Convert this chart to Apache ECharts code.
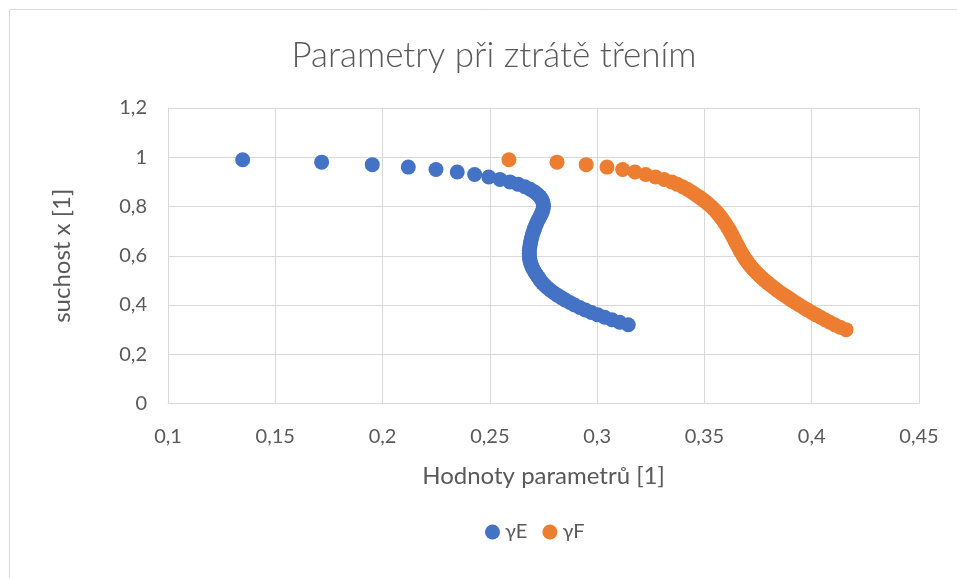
<!DOCTYPE html>
<html>
<head>
<meta charset="utf-8">
<script src="https://cdn.jsdelivr.net/npm/echarts@6/dist/echarts.min.js"></script>
<style>html,body{margin:0;padding:0;background:#fff}#c{width:957px;height:578px}</style>
</head>
<body>
<div id="c"></div>
<script>
const titleText = 'Parametry při ztrátě třením';
const xAxisName = 'Hodnoty parametrů [1]';
const yAxisName = 'suchost x [1]';
const seriesNames = ['γE', 'γF'];

const gammaE_x = [0.1348,0.1716,0.1952,0.2120,0.2249,0.2348,0.2429,0.2495,0.2547,0.2594,
  0.2632,0.2663,0.2688,0.2707,0.2722,0.2733,0.2741,0.2746,0.2749,0.2750,
  0.2748,0.2745,0.2740,0.2734,0.2728,0.2722,0.2717,0.2712,0.2708,0.2704,
  0.2700,0.2697,0.2694,0.2691,0.2689,0.2687,0.2685,0.2684,0.2684,0.2684,
  0.2685,0.2687,0.2690,0.2694,0.2699,0.2705,0.2712,0.2720,0.2728,0.2735,
  0.2745,0.2756,0.2768,0.2782,0.2798,0.2815,0.2833,0.2852,0.2873,0.2895,
  0.2919,0.2945,0.2973,0.3003,0.3035,0.3069,0.3105,0.3145];
const gammaE_y = [0.99,0.98,0.97,0.96,0.95,0.94,0.93,0.92,0.91,0.90,
  0.89,0.88,0.87,0.86,0.85,0.84,0.83,0.82,0.81,0.80,
  0.79,0.78,0.77,0.76,0.75,0.74,0.73,0.72,0.71,0.70,
  0.69,0.68,0.67,0.66,0.65,0.64,0.63,0.62,0.61,0.60,
  0.59,0.58,0.57,0.56,0.55,0.54,0.53,0.52,0.51,0.50,
  0.49,0.48,0.47,0.46,0.45,0.44,0.43,0.42,0.41,0.40,
  0.39,0.38,0.37,0.36,0.35,0.34,0.33,0.32];

const gammaF_x = [0.2589,0.2813,0.2949,0.3046,0.3119,0.3176,0.3226,0.3272,0.3312,0.3348,
  0.3374,0.3398,0.3420,0.3439,0.3456,0.3473,0.3489,0.3504,0.3518,0.3531,
  0.3543,0.3554,0.3564,0.3573,0.3582,0.3590,0.3598,0.3605,0.3612,0.3619,
  0.3625,0.3631,0.3637,0.3643,0.3649,0.3655,0.3661,0.3667,0.3674,0.3681,
  0.3688,0.3696,0.3704,0.3713,0.3723,0.3733,0.3744,0.3756,0.3768,0.3781,
  0.3795,0.3809,0.3824,0.3839,0.3855,0.3872,0.3889,0.3906,0.3924,0.3942,
  0.3961,0.3980,0.4000,0.4020,0.4041,0.4062,0.4084,0.4107,0.4132,0.4160];
const gammaF_y = [0.99,0.98,0.97,0.96,0.95,0.94,0.93,0.92,0.91,0.90,
  0.89,0.88,0.87,0.86,0.85,0.84,0.83,0.82,0.81,0.80,
  0.79,0.78,0.77,0.76,0.75,0.74,0.73,0.72,0.71,0.70,
  0.69,0.68,0.67,0.66,0.65,0.64,0.63,0.62,0.61,0.60,
  0.59,0.58,0.57,0.56,0.55,0.54,0.53,0.52,0.51,0.50,
  0.49,0.48,0.47,0.46,0.45,0.44,0.43,0.42,0.41,0.40,
  0.39,0.38,0.37,0.36,0.35,0.34,0.33,0.32,0.31,0.30];

const colors = ['#4472C4', '#ED7D31'];
const FONT = 'Lato, "Open Sans", sans-serif';
const fmt = v => String(+v.toFixed(2)).replace('.', ',');

const pair = (xs, ys) => xs.map((x, i) => [x, ys[i]]);

const chart = echarts.init(document.getElementById('c'), null, {renderer: 'canvas'});
chart.setOption({
  backgroundColor: '#ffffff',
  animation: false,
  textStyle: {fontFamily: FONT},
  graphic: [{
    type: 'rect', silent: true, z: -10,
    shape: {x: 9.5, y: 9.5, width: 1200, height: 1200},
    style: {fill: 'none', stroke: '#d9d9d9', lineWidth: 1}
  }],
  title: {
    text: titleText, left: 489, textAlign: 'center', top: 33,
    textStyle: {fontFamily: FONT, fontWeight: 300, fontSize: 35, color: '#595959'}
  },
  legend: {
    top: 517, left: 480,
    itemWidth: 15, itemHeight: 15, itemGap: 15,
    icon: 'circle',
    textStyle: {fontFamily: FONT, fontSize: 20, color: '#595959'},
    data: seriesNames
  },
  grid: {left: 168, right: 38, top: 108, bottom: 174.5, containLabel: false},
  xAxis: {
    type: 'value', min: 0.1, max: 0.45, interval: 0.05,
    name: xAxisName, nameLocation: 'middle', nameGap: 61,
    nameTextStyle: {fontFamily: FONT, fontSize: 24, color: '#595959'},
    axisLine: {show: true, lineStyle: {color: '#d9d9d9'}},
    axisTick: {show: false},
    axisLabel: {formatter: fmt, fontFamily: FONT, fontSize: 20, color: '#595959', margin: 23},
    splitLine: {show: true, lineStyle: {color: '#d9d9d9', width: 1}}
  },
  yAxis: {
    type: 'value', min: 0, max: 1.2, interval: 0.2,
    name: yAxisName, nameLocation: 'middle', nameGap: 94, nameRotate: 90,
    nameTextStyle: {fontFamily: FONT, fontSize: 24, color: '#595959'},
    axisLine: {show: true, lineStyle: {color: '#d9d9d9'}},
    axisTick: {show: false},
    axisLabel: {formatter: fmt, fontFamily: FONT, fontSize: 20, color: '#595959', margin: 21},
    splitLine: {show: true, lineStyle: {color: '#d9d9d9', width: 1}}
  },
  series: [
    {name: seriesNames[0], type: 'scatter', symbol: 'circle', symbolSize: 15,
     itemStyle: {color: colors[0], opacity: 1}, data: pair(gammaE_x, gammaE_y)},
    {name: seriesNames[1], type: 'scatter', symbol: 'circle', symbolSize: 15,
     itemStyle: {color: colors[1], opacity: 1}, data: pair(gammaF_x, gammaF_y)}
  ]
});
</script>
</body>
</html>
